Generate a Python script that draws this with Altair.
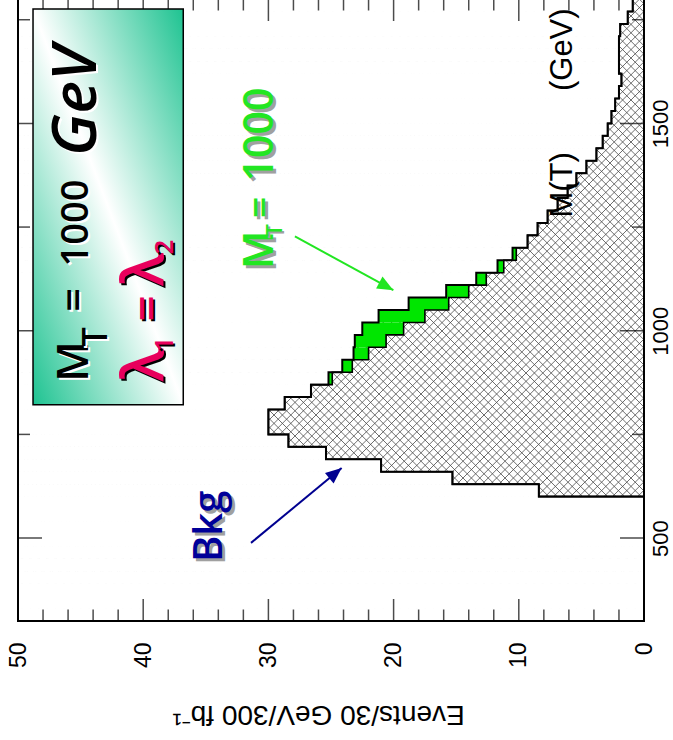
import altair as alt
import numpy as np
import pandas as pd

# ---- plot geometry (plot area in px) ----
W, H = 626, 622
E_MAX = 50
M_MIN, M_MAX = 300, 1800
BIN = 30

# ---- M(T) histogram, 30 GeV bins starting at 600 GeV ----
bin_low = list(range(600, 1800, BIN))
bkg = [8.4, 15.3, 21.0, 25.4, 28.4, 30.0, 30.0, 28.7, 26.6, 24.9,
       23.3, 22.0, 20.6, 19.2, 17.5, 15.6, 14.0, 12.6, 11.2, 10.2,
       9.3, 8.5, 7.7, 6.9, 6.1, 5.4, 4.6, 3.8, 3.3, 2.9,
       2.6, 2.3, 2.0, 1.8, 2.0, 2.0, 2.0, 1.9, 1.3, 0.9]
signal = [0, 0, 0, 0, 0, 0, 0, 0, 0, 0.3,
          0.8, 1.2, 2.5, 3.3, 3.7, 3.2, 1.8, 0.8, 0.5, 0.3,
          0, 0, 0, 0, 0, 0, 0, 0, 0, 0,
          0, 0, 0, 0, 0, 0, 0, 0, 0, 0]

event_labels = [0, 10, 20, 30, 40, 50]
event_minor = [v for v in range(0, 51, 2) if v % 10]
mass_labels = [500, 1000, 1500]
mass_minor = [750, 1250, 1750]

total = [b + s for b, s in zip(bkg, signal)]

hist = pd.DataFrame({"m": bin_low, "m2": [b + BIN for b in bin_low],
                     "e": bkg, "e2": total})

# white area outside the histogram (hides the hatching there)
mask_rows = []
for lo in range(M_MIN, M_MAX, BIN):
    top = total[bin_low.index(lo)] if lo in bin_low else 0
    mask_rows.append({"m": lo, "m2": lo + BIN, "e": top, "e2": E_MAX})
mask = pd.DataFrame(mask_rows)


def outline(values):
    rows = [{"e": 0, "m": bin_low[0], "i": 0}]
    for k, (lo, v) in enumerate(zip(bin_low, values)):
        rows.append({"e": v, "m": lo, "i": 2 * k + 1})
        rows.append({"e": v, "m": lo + BIN, "i": 2 * k + 2})
    return pd.DataFrame(rows)


# cross-hatch texture: 45 degree lines in screen space
step = 8.4
seg = []
for c in np.arange(0, W + H, step):          # px + py = c
    p0, p1 = max(0.0, c - H), min(float(W), c)
    seg.append((p0, c - p0, p1, c - p1))
for c in np.arange(-H, W, step):             # px - py = c
    p0, p1 = max(0.0, c), min(float(W), c + H)
    seg.append((p0, p0 - c, p1, p1 - c))
hatch = pd.DataFrame({
    "e": [E_MAX * (1 - a / W) for a, _, _, _ in seg],
    "m": [M_MAX - (M_MAX - M_MIN) * b / H for _, b, _, _ in seg],
    "e2": [E_MAX * (1 - c / W) for _, _, c, _ in seg],
    "m2": [M_MAX - (M_MAX - M_MIN) * d / H for _, _, _, d in seg],
})

xscale = alt.Scale(domain=[0, E_MAX], reverse=True, nice=False, zero=False)
yscale = alt.Scale(domain=[M_MIN, M_MAX], nice=False, zero=False)

x_axis = alt.Axis(values=event_labels, title="Events/30 GeV/300 fb\u207b\u00b9",
                  grid=False, ticks=False, tickSize=0, domain=False,
                  labelAngle=270, labelAlign="right", labelBaseline="middle",
                  labelPadding=21, labelFlush=False, labelOverlap=False,
                  labelFont="Liberation Sans", labelFontSize=23, labelColor="black",
                  titleFont="Liberation Sans", titleFontSize=28,
                  titleFontWeight="normal", titleColor="black",
                  titleAngle=180, titleAlign="center", titleBaseline="middle",
                  titleX=300, titleY=92)
y_axis = alt.Axis(values=mass_labels, title=None, orient="right", format="d",
                  grid=False, ticks=False, tickSize=0, domain=False,
                  labelAngle=270, labelAlign="center", labelBaseline="top",
                  labelPadding=6, labelFlush=False, labelOverlap=False,
                  labelFont="Liberation Sans", labelFontSize=22, labelColor="black")


def X(f="e"):
    return alt.X(f"{f}:Q", scale=xscale, axis=x_axis)


def Y(f="m"):
    return alt.Y(f"{f}:Q", scale=yscale, axis=y_axis)


hatch_layer = alt.Chart(hatch).mark_rule(clip=True, stroke="#4a4a4a", strokeWidth=0.8).encode(
    x=X(), y=Y(), x2="e2:Q", y2="m2:Q")

mask_layer = alt.Chart(mask).mark_rect(fill="white", stroke="white", strokeWidth=0.8).encode(
    x=X(), x2="e2:Q", y=Y(), y2="m2:Q")

sig_layer = alt.Chart(hist[hist.e2 > hist.e]).mark_rect(fill="#00e600").encode(
    x=X(), x2="e2:Q", y=Y(), y2="m2:Q")

bkg_line = alt.Chart(outline(bkg)).mark_line(clip=True, color="black", strokeWidth=1.6).encode(
    x=X(), y=Y(), order="i:Q")
tot_line = alt.Chart(outline(total)).mark_line(clip=True, color="black", strokeWidth=2).encode(
    x=X(), y=Y(), order="i:Q")

# inward ticks on all four sides
ev_major = pd.DataFrame({"e": event_labels * 2, "m": [M_MIN] * 6 + [M_MAX] * 6})
ev_minor = pd.DataFrame({"e": event_minor * 2,
                         "m": [M_MIN] * len(event_minor) + [M_MAX] * len(event_minor)})
ms_major = pd.DataFrame({"m": mass_labels * 2, "e": [0] * 3 + [E_MAX] * 3})
ms_minor = pd.DataFrame({"m": mass_minor * 2, "e": [0] * 3 + [E_MAX] * 3})

ticks = [
    alt.Chart(ev_major).mark_tick(clip=True, orient="vertical", size=44, thickness=1.5, color="black").encode(x=X(), y=Y()),
    alt.Chart(ev_minor).mark_tick(clip=True, orient="vertical", size=23, thickness=1.5, color="black").encode(x=X(), y=Y()),
    alt.Chart(ms_major).mark_tick(clip=True, orient="horizontal", size=48, thickness=1.5, color="black").encode(x=X(), y=Y()),
    alt.Chart(ms_minor).mark_tick(clip=True, orient="horizontal", size=24, thickness=1.5, color="black").encode(x=X(), y=Y()),
]

frame = alt.Chart(pd.DataFrame({"e": [0], "e2": [E_MAX], "m": [M_MIN], "m2": [M_MAX]})).mark_rect(
    filled=False, stroke="black", strokeWidth=2).encode(x=X(), x2="e2:Q", y=Y(), y2="m2:Q")

# legend box with a diagonal green-white-green gradient
box_fill = alt.LinearGradient(
    gradient="linear", x1=0, y1=1, x2=1, y2=0,
    stops=[alt.GradientStop(color="#1ec391", offset=0),
           alt.GradientStop(color="#ffffff", offset=0.5),
           alt.GradientStop(color="#1ec391", offset=1)])
box = alt.Chart(pd.DataFrame({"e": [48.8], "e2": [36.8], "m": [821.7], "m2": [1775.8]})).mark_rect(
    fill=box_fill, stroke="black", strokeWidth=1.5).encode(x=X(), x2="e2:Q", y=Y(), y2="m2:Q")


def label(text, e, m, size, color, font="Open Sans", style="normal", weight=600,
          shadow=None, off=2):
    df = pd.DataFrame({"e": [e], "m": [m], "t": [text]})
    out = []
    if shadow:
        out.append(alt.Chart(df).mark_text(
            angle=270, align="left", baseline="alphabetic", font=font, fontSize=size,
            fontStyle=style, fontWeight=weight, color=shadow, dx=-off, dy=off
        ).encode(x=X(), y=Y(), text="t:N"))
    out.append(alt.Chart(df).mark_text(
        angle=270, align="left", baseline="alphabetic", font=font, fontSize=size,
        fontStyle=style, fontWeight=weight, color=color
    ).encode(x=X(), y=Y(), text="t:N"))
    return out


PINK = "#e8005c"
LIME = "#22e622"
texts = []
# box contents
texts += label("M", 44.4, 877, 44, "black", shadow="white")
texts += label("T", 42.9, 962, 34, "black", shadow="white")
texts += label("=", 44.4, 1046, 42, "black", shadow="white")
texts += label("1000", 44.4, 1155, 38, "black", shadow="white")
texts += label("GeV", 43.8, 1421, 62, "black", style="italic", shadow="white")
texts += label("\u03bb", 38.4, 877, 58, PINK, shadow="black")
texts += label("1", 37.6, 950, 26, PINK, shadow="black")
texts += label("=", 38.4, 1022, 46, PINK, shadow="black")
texts += label("\u03bb", 38.4, 1107, 58, PINK, shadow="black")
texts += label("2", 37.6, 1184, 26, PINK, shadow="black")
# signal label
texts += label("M", 29.6, 1148, 42, LIME, shadow="#a0a0a0", off=3)
texts += label("T", 28.9, 1227, 22, LIME, shadow="#a0a0a0", off=2)
texts += label("=", 29.6, 1271, 38, LIME, shadow="#a0a0a0", off=3)
texts += label("1000", 29.6, 1360, 41, LIME, shadow="#a0a0a0", off=3)
# background label
texts += label("Bkg", 33.7, 442, 40, "#000099", shadow="#a0a0a0", off=3)
# axis name for the mass
texts += label("M(T)", 5.75, 1273, 31, "black", font="Liberation Sans", weight="normal")
texts += label("(GeV)", 5.75, 1578, 31, "black", font="Liberation Sans", weight="normal")

ARROW = "M0,0L-0.42,1L0.42,1Z"
arrows = []
for (e0, m0, e1, m1, col, ang) in [(31.39, 488.4, 24.15, 668.8, "#000090", 50.5),
                                   (27.88, 1227.5, 20.02, 1097.8, LIME, 118.6)]:
    df = pd.DataFrame({"e": [e0], "m": [m0], "e2": [e1], "m2": [m1]})
    arrows.append(alt.Chart(df).mark_rule(color=col, strokeWidth=2).encode(
        x=X(), y=Y(), x2="e2:Q", y2="m2:Q"))
    tip = pd.DataFrame({"e": [e1], "m": [m1]})
    arrows.append(alt.Chart(tip).mark_point(shape=ARROW, angle=ang, size=1024, filled=True,
                                            color=col, opacity=1).encode(x=X(), y=Y()))

chart = alt.layer(
    hatch_layer, mask_layer, sig_layer, bkg_line, tot_line, *ticks, frame, box, *texts, *arrows
).properties(
    width=W, height=H,
    autosize=alt.AutoSizeParams(type="none"),
    padding={"left": 18, "top": -1, "right": 29, "bottom": 119},
    background="white",
).configure_view(stroke=None)

chart.save("out.html", embed_options={"renderer": "svg", "actions": False})
